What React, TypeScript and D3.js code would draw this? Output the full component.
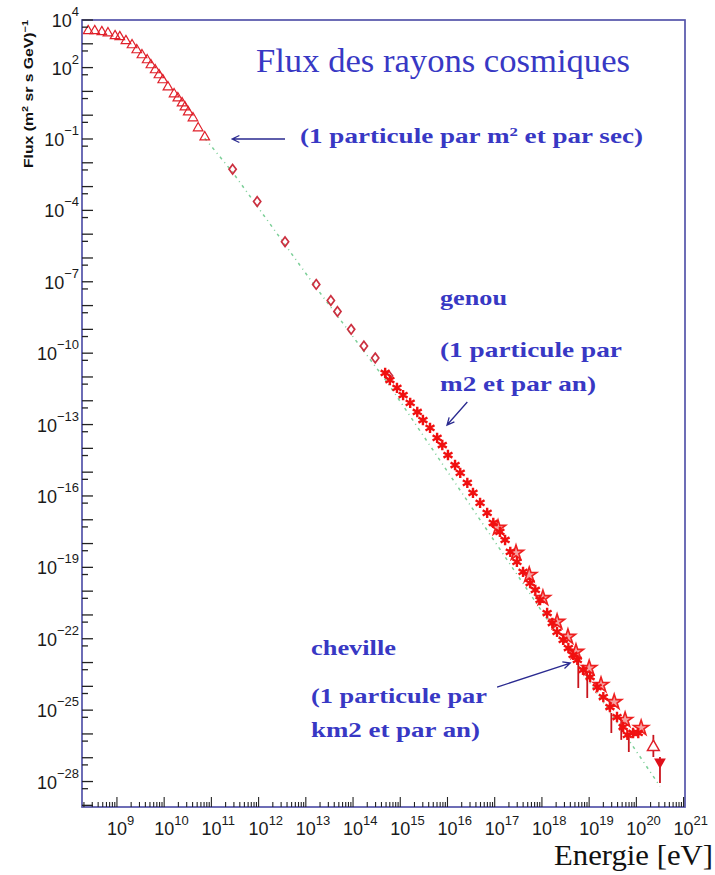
import { useEffect, useRef } from 'react';
import * as d3 from 'd3';

// all values are [log10 E (eV), log10 flux]
const triangles = [
  [8.39, 3.54], [8.53, 3.54], [8.68, 3.5], [8.81, 3.45], [8.96, 3.33], [9.06, 3.29],
  [9.19, 3.12], [9.32, 2.95], [9.42, 2.74], [9.53, 2.53], [9.64, 2.32], [9.72, 2.11],
  [9.81, 1.9], [9.89, 1.69], [9.97, 1.48], [10.08, 1.18], [10.21, 0.89], [10.29, 0.72],
  [10.38, 0.51], [10.44, 0.34], [10.51, 0.13], [10.61, -0.12], [10.72, -0.54], [10.86, -0.92],
];

const diamonds = [
  [11.45, -2.27], [11.97, -3.63], [12.56, -5.32], [13.22, -7.11], [13.53, -7.79],
  [13.67, -8.25], [13.96, -9.0], [14.23, -9.7], [14.47, -10.2], [14.76, -10.95],
];

const crosses = [
  [14.68, -10.83], [14.78, -11.13], [14.93, -11.46], [15.06, -11.76], [15.21, -12.09],
  [15.36, -12.47], [15.48, -12.81], [15.63, -13.14], [15.78, -13.56], [15.89, -13.86],
  [16.01, -14.28], [16.16, -14.7], [16.27, -15.03], [16.42, -15.45], [16.54, -15.87],
  [16.69, -16.29], [16.84, -16.71], [16.97, -17.13], [17.11, -17.51], [17.22, -17.85],
  [17.33, -18.35], [17.47, -18.77], [17.6, -19.19], [17.75, -19.66], [17.86, -19.95],
  [17.96, -20.37], [18.11, -20.92], [18.22, -21.34], [18.32, -21.71], [18.45, -22.05],
  [18.56, -22.39], [18.66, -22.68], [18.75, -22.89], [18.87, -23.31], [19.02, -23.61],
  [19.17, -24.03], [19.3, -24.45], [19.44, -24.87], [19.59, -25.29], [19.72, -25.71],
  [19.81, -26.04], [19.93, -25.96], [20.04, -25.96],
];

const openStars = [
  [17.05, -17.34], [17.43, -18.39], [17.71, -19.32], [18.0, -20.29], [18.3, -21.29],
  [18.53, -21.92], [18.7, -22.55], [18.98, -23.23], [19.23, -23.94], [19.51, -24.66],
  [19.74, -25.41], [20.08, -25.75],
];

// [logE, logF, low, high]
const errorBars = [
  [18.77, -23.31, -24.07, -22.6], [18.96, -23.7, -24.49, -23.18], [19.47, -25.5, -25.96, -25.12],
  [19.68, -25.8, -26.25, -25.41], [19.84, -26.3, -26.76, -25.96],
];
const upTriangle = [[20.36, -26.55, -26.97, -26.04]];
const downTriangle = [[20.5, -27.18, -28.06, -26.97]];

// dotted guide, read at a few places along its length
const powerLaw = [[10.86, -0.97], [11.45, -2.4], [13.22, -7.25], [14.72, -11.21], [20.5, -28.2]];

const xTickExps = [9, 10, 11, 12, 13, 14, 15, 16, 17, 18, 19, 20, 21];
const yTickExps = [4, 2, -1, -4, -7, -10, -13, -16, -19, -22, -25, -28];

// annotation arrows, [from, to] in data space
const arrows = [
  [[12.56, -1.0], [11.44, -1.0]],
  [[16.42, -12.05], [15.99, -13.02]],
  [[17.05, -24.03], [18.6, -23.02]],
];

const BLUE = '#3838c4';
const SERIF = '"Liberation Serif", "Times New Roman", serif';
const SANS = '"Liberation Sans", Arial, sans-serif';

export default function App() {
  const svgRef = useRef<SVGSVGElement>(null);

  useEffect(() => {
    if (!svgRef.current) return;
    const svg = d3.select(svgRef.current);
    svg.selectAll('*').remove();

    const left = 82, right = 685, top = 20, bottom = 807;
    const x = d3.scaleLog().domain([10 ** 8.26, 10 ** 21.03]).range([left, right]);
    const y = d3.scaleLog().domain([10 ** -29.07, 10 ** 4]).range([bottom, top]);
    const px = (d: number[]) => x(10 ** d[0]);
    const py = (v: number) => y(10 ** v);

    // power law guide
    svg.append('path')
      .attr('d', d3.line<number[]>().x(px).y((d) => py(d[1]))(powerLaw))
      .attr('fill', 'none')
      .attr('stroke', '#7ccf98')
      .attr('stroke-width', 1.5)
      .attr('stroke-dasharray', '3,4,1,4');

    // error bars
    const bars = [...errorBars, ...upTriangle, ...downTriangle];
    svg.append('g').selectAll('line').data(bars).enter().append('line')
      .attr('x1', px).attr('x2', px)
      .attr('y1', (d) => py(d[2])).attr('y2', (d) => py(d[3]))
      .attr('stroke', '#c8141c').attr('stroke-width', 1.8);

    // low energy triangles
    const tri = d3.symbol(d3.symbolTriangle, 40);
    svg.append('g').selectAll('path').data(triangles).enter().append('path')
      .attr('d', tri)
      .attr('transform', (d) => `translate(${px(d)},${py(d[1])})`)
      .attr('fill', 'none').attr('stroke', '#e0202a').attr('stroke-width', 1.2);

    // diamonds
    svg.append('g').selectAll('path').data(diamonds).enter().append('path')
      .attr('d', 'M0,-4.8L3.6,0L0,4.8L-3.6,0Z')
      .attr('transform', (d) => `translate(${px(d)},${py(d[1])})`)
      .attr('fill', 'none').attr('stroke', '#cc3040').attr('stroke-width', 1.7);

    // open stars under the crosses
    const star = d3.symbol(d3.symbolStar, 70);
    svg.append('g').selectAll('path').data(openStars).enter().append('path')
      .attr('d', star)
      .attr('transform', (d) => `translate(${px(d) + 1},${py(d[1])})`)
      .attr('fill', '#f6a0a0').attr('stroke', '#ee2020').attr('stroke-width', 1.6);

    // dense crosses
    const ast = d3.symbol(d3.symbolAsterisk, 75);
    svg.append('g').selectAll('path').data(crosses).enter().append('path')
      .attr('d', ast)
      .attr('transform', (d) => `translate(${px(d)},${py(d[1])})`)
      .attr('fill', 'none').attr('stroke', '#f01010').attr('stroke-width', 2.4);

    svg.append('g').selectAll('path').data(upTriangle).enter().append('path')
      .attr('d', d3.symbol(d3.symbolTriangle, 60))
      .attr('transform', (d) => `translate(${px(d)},${py(d[1])})`)
      .attr('fill', '#fff').attr('stroke', '#e0202a').attr('stroke-width', 1.5);

    svg.append('g').selectAll('path').data(downTriangle).enter().append('path')
      .attr('d', d3.symbol(d3.symbolTriangle, 60))
      .attr('transform', (d) => `translate(${px(d)},${py(d[1])}) rotate(180)`)
      .attr('fill', '#e0101a');

    // frame
    svg.append('rect')
      .attr('x', left).attr('y', top).attr('width', right - left).attr('height', bottom - top)
      .attr('fill', 'none').attr('stroke', '#5454aa').attr('stroke-width', 1.7);

    // y ticks: decade and half-decade
    const yt = svg.append('g').attr('stroke', '#222').attr('stroke-width', 1.3);
    for (let n = 4; n >= -29; n--) {
      [[10 ** n, 11], [0.5 * 10 ** n, 6]].forEach(([v, len]) => {
        if (v > y.domain()[1] || v < y.domain()[0]) return;
        yt.append('line').attr('x1', left).attr('x2', left + len).attr('y1', y(v)).attr('y2', y(v));
      });
    }

    // x ticks: decades and minors
    const xt = svg.append('g').attr('stroke', '#222').attr('stroke-width', 1.1);
    for (let n = 8; n <= 21; n++) {
      for (let k = 1; k <= 9; k++) {
        const v = k * 10 ** n;
        if (v < x.domain()[0] || v > x.domain()[1]) continue;
        const len = k === 1 ? 10 : 5;
        xt.append('line').attr('x1', x(v)).attr('x2', x(v)).attr('y1', bottom).attr('y2', bottom - len);
      }
    }

    // tick labels
    xTickExps.forEach((e) => {
      const t = svg.append('text').attr('x', x(10 ** e) - 10).attr('y', 835)
        .attr('font-family', SANS).attr('font-size', 18).attr('fill', '#1a1a1a');
      t.append('tspan').text('10');
      t.append('tspan').attr('dy', -10).attr('font-size', 13).text(String(e));
    });
    yTickExps.forEach((e) => {
      const t = svg.append('text').attr('x', 79).attr('y', y(10 ** e) + 7)
        .attr('text-anchor', 'end')
        .attr('font-family', SANS).attr('font-size', 18).attr('fill', '#1a1a1a');
      t.append('tspan').text('10');
      t.append('tspan').attr('dy', -11).attr('font-size', 13)
        .text(e < 0 ? `\u2212${-e}` : String(e));
    });

    // axis titles
    const yl = svg.append('text')
      .attr('transform', 'translate(33,94) rotate(-90)')
      .attr('text-anchor', 'middle')
      .attr('font-family', SANS).attr('font-size', 13).attr('font-weight', 'bold').attr('fill', '#111')
      .attr('textLength', 148).attr('lengthAdjust', 'spacingAndGlyphs');
    yl.append('tspan').text('Flux (m');
    yl.append('tspan').attr('dy', -5).attr('font-size', 9).text('2');
    yl.append('tspan').attr('dy', 5).text(' sr s GeV)');
    yl.append('tspan').attr('dy', -5).attr('font-size', 9).text('\u22121');

    svg.append('text').attr('x', 554).attr('y', 865)
      .attr('font-family', SERIF).attr('font-size', 30).attr('fill', '#111')
      .attr('textLength', 159).attr('lengthAdjust', 'spacingAndGlyphs')
      .text('Energie [eV]');

    // title and annotations
    svg.append('text').attr('x', 256).attr('y', 72)
      .attr('font-family', SERIF).attr('font-size', 34).attr('fill', BLUE)
      .attr('textLength', 374).attr('lengthAdjust', 'spacingAndGlyphs')
      .text('Flux des rayons cosmiques');

    const note = (tx: number, ty: number, w: number, s: string) =>
      svg.append('text').attr('x', tx).attr('y', ty)
        .attr('font-family', SERIF).attr('font-size', 21).attr('font-weight', 'bold').attr('fill', BLUE)
        .attr('textLength', w).attr('lengthAdjust', 'spacingAndGlyphs').text(s);

    const first = svg.append('text').attr('x', 300).attr('y', 143)
      .attr('font-family', SERIF).attr('font-size', 21).attr('font-weight', 'bold').attr('fill', BLUE)
      .attr('textLength', 343).attr('lengthAdjust', 'spacingAndGlyphs');
    first.append('tspan').text('(1 particule par m');
    first.append('tspan').attr('dy', -7).attr('font-size', 13).text('2');
    first.append('tspan').attr('dy', 7).text(' et par sec)');

    note(440, 305, 67, 'genou');
    note(440, 357, 182, '(1 particule par');
    note(440, 391, 156, 'm2 et par an)');
    note(311, 655, 85, 'cheville');
    note(311, 703, 176, '(1 particule par');
    note(311, 737, 169, 'km2 et par an)');

    // arrows
    arrows.forEach(([a, b]) => {
      const x1 = px(a), y1 = py(a[1]), x2 = px(b), y2 = py(b[1]);
      const ang = Math.atan2(y2 - y1, x2 - x1);
      const h = 8, w = 0.45;
      svg.append('path')
        .attr('d', `M${x1},${y1}L${x2},${y2}` +
          `M${x2 - h * Math.cos(ang - w)},${y2 - h * Math.sin(ang - w)}L${x2},${y2}` +
          `L${x2 - h * Math.cos(ang + w)},${y2 - h * Math.sin(ang + w)}`)
        .attr('fill', 'none').attr('stroke', '#2a2a90').attr('stroke-width', 1.3);
    });
  }, []);

  return (
    <svg
      ref={svgRef}
      width={715}
      height={875}
      style={{ position: 'absolute', left: 0, top: 0, background: '#fff' }}
    />
  );
}
